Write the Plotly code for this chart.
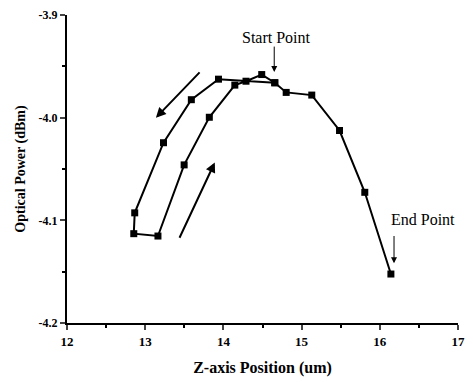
import plotly.graph_objects as go

# Scan path (Z position, optical power), in measurement order
z_pos = [14.657, 13.937, 13.590, 13.234, 12.866, 12.854, 13.163, 13.498, 13.820,
         14.146, 14.289, 14.490, 14.657, 14.803, 15.130, 15.485, 15.808, 16.142]
power = [-3.966, -3.9625, -3.9825, -4.0244, -4.0927, -4.113, -4.1153, -4.046, -3.9996,
         -3.9683, -3.9645, -3.958, -3.966, -3.9754, -3.978, -4.0125, -4.0727, -4.1523]

x_ticks = [12, 13, 14, 15, 16, 17]
x_tick_text = ["12", "13", "14", "15", "16", "17"]
y_ticks = [-4.2, -4.1, -4.0, -3.9]
y_tick_text = ["-4.2", "-4.1", "-4.0", "-3.9"]

serif = "Liberation Serif, Times New Roman, serif"

fig = go.Figure()
fig.add_trace(go.Scatter(
    x=z_pos, y=power, mode="lines+markers",
    line=dict(color="black", width=2),
    marker=dict(symbol="square", size=7, color="black"),
    showlegend=False, hoverinfo="skip"))

ann = []
# text labels
ann.append(dict(x=14.676, y=-3.9215, xref="x", yref="y", text="Start Point", showarrow=False,
                font=dict(family=serif, size=16, color="black")))
ann.append(dict(x=16.558, y=-4.0995, xref="x", yref="y", text="End Point", showarrow=False,
                font=dict(family=serif, size=16, color="black")))
# pointer arrows
for (hx, hy, tx, ty, w) in [(14.65, -3.9554, 14.65, -3.9293, 1),
                            (16.182, -4.1418, 16.182, -4.1138, 1),
                            (13.137, -4.0001, 13.714, -3.9544, 2),
                            (13.890, -4.0436, 13.430, -4.1184, 2)]:
    ann.append(dict(x=hx, y=hy, ax=tx, ay=ty, xref="x", yref="y", axref="x", ayref="y",
                    text="", showarrow=True, arrowhead=2, arrowsize=1.2 if w == 1 else 1.0,
                    arrowwidth=w, arrowcolor="black"))

fig.update_layout(
    width=473, height=382,
    margin=dict(l=67, r=8, t=15, b=57),
    paper_bgcolor="white", plot_bgcolor="white",
    annotations=ann,
    xaxis=dict(range=[12, 17], tickvals=x_ticks, ticktext=["<b>%s</b>" % t for t in x_tick_text],
               ticks="outside", ticklen=5, tickwidth=1.5,
               showline=True, linecolor="black", linewidth=2, showgrid=False, zeroline=False,
               minor=dict(dtick=0.5, ticks="outside", ticklen=3, tickcolor="black"),
               tickfont=dict(family=serif, size=13, color="black"),
               title=dict(text="<b>Z-axis Position (um)</b>", standoff=14,
                          font=dict(family=serif, size=16, color="black"))),
    yaxis=dict(range=[-4.2, -3.9], tickvals=y_ticks, ticktext=["<b>%s</b>" % t for t in y_tick_text],
               ticks="outside", ticklen=5, tickwidth=1.5,
               showline=True, linecolor="black", linewidth=2, showgrid=False, zeroline=False,
               minor=dict(dtick=0.05, ticks="outside", ticklen=3, tickcolor="black"),
               tickfont=dict(family=serif, size=12, color="black"),
               title=dict(text="<b>Optical Power (dBm)</b>", standoff=10,
                          font=dict(family=serif, size=14, color="black"))),
)

fig.write_html("out.html")
